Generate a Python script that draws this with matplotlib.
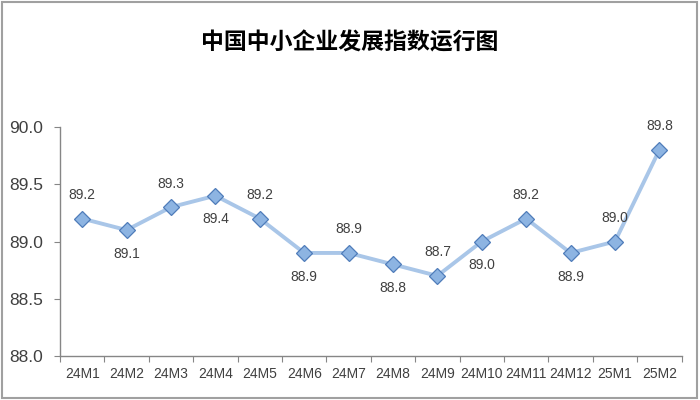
import matplotlib
matplotlib.use("Agg")
import matplotlib.pyplot as plt
from matplotlib.patches import Rectangle

categories = ["24M1", "24M2", "24M3", "24M4", "24M5", "24M6", "24M7",
              "24M8", "24M9", "24M10", "24M11", "24M12", "25M1", "25M2"]
values = [89.2, 89.1, 89.3, 89.4, 89.2, 88.9, 88.9, 88.8, 88.7, 89.0, 89.2, 88.9, 89.0, 89.8]
label_pos = ["above", "below", "above", "below", "above", "below", "above",
             "below", "above", "below", "above", "below", "above", "above"]
title = "中国中小企业发展指数运行图"
yticks = [88.0, 88.5, 89.0, 89.5, 90.0]

num_font = ["Liberation Sans Narrow", "Liberation Sans", "DejaVu Sans"]

fig = plt.figure(figsize=(7, 4), dpi=100)
fig.patch.set_facecolor("white")
fig.patches.append(Rectangle((0.003, 0.006), 0.992, 0.988, transform=fig.transFigure,
                             fill=False, edgecolor="#A0A0A0", linewidth=1.5))

ax = fig.add_axes([0.0857, 0.11, 0.888, 0.5725])
x = list(range(len(categories)))
ax.plot(x, values, color="#A9C6E8", linewidth=2.8, marker="D", markersize=8,
        markerfacecolor="#8DB4E2", markeredgecolor="#4F7CBA", markeredgewidth=0.9, zorder=3)

for xi, v, p in zip(x, values, label_pos):
    off = 17 if p == "above" else -17
    ax.annotate(f"{v:.1f}", (xi, v), xytext=(0, off), textcoords="offset points",
                ha="center", va="center", fontsize=10, color="#404040", family=num_font)

ax.set_xlim(-0.5, len(categories) - 0.5)
ax.set_ylim(88.0, 90.0)
ax.set_yticks(yticks)
ax.set_yticklabels([f"{t:.1f}" for t in yticks], family=num_font, fontsize=12.5, color="#404040")
ax.set_xticks([i - 0.5 for i in range(len(categories) + 1)])
ax.set_xticklabels([])
ax.set_xticks(x, minor=True)
ax.set_xticklabels(categories, minor=True, family=num_font, fontsize=10, color="#404040")
ax.tick_params(axis="x", which="minor", length=0, pad=8)
ax.tick_params(axis="x", which="major", length=4, color="#868686", direction="out")
ax.tick_params(axis="y", length=4, color="#868686", pad=8)
for s in ["top", "right"]:
    ax.spines[s].set_visible(False)
for s in ["left", "bottom"]:
    ax.spines[s].set_color("#868686")
    ax.spines[s].set_linewidth(1)

fig.text(0.5, 0.893, title, ha="center", va="center", fontsize=16.5, fontweight="bold",
         family=["Noto Sans CJK SC", "DejaVu Sans"], color="#000000")

fig.savefig("out.png", dpi=100)
